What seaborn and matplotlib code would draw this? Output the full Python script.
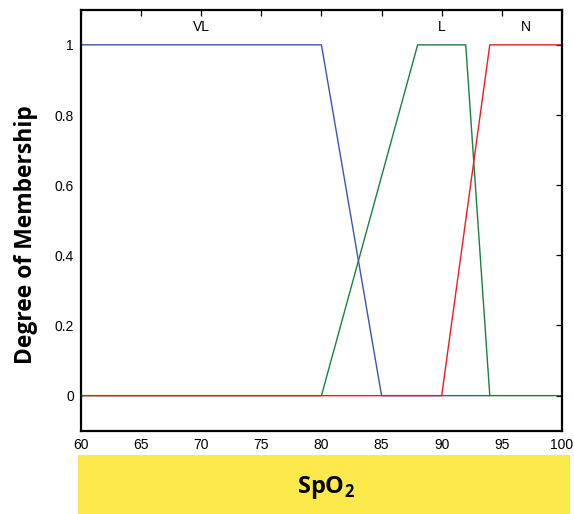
"""
Fuzzy membership functions for SpO2 (VL / L / N)
"""

import matplotlib
matplotlib.use('Agg')
import matplotlib.pyplot as plt
from matplotlib.patches import Rectangle
import seaborn as sns
import pandas as pd

# membership breakpoints
spo2_vl = [60, 80, 85, 94]
mu_vl = [1, 1, 0, 0]
spo2_l = [60, 80, 88, 92, 94, 100]
mu_l = [0, 0, 1, 1, 0, 0]
spo2_n = [60, 90, 94, 100]
mu_n = [0, 0, 1, 1]

set_names = ['VL', 'L', 'N']
set_label_x = [70, 90, 97]
x_ticks = [60, 65, 70, 75, 80, 85, 90, 95, 100]
y_ticks = [0, 0.2, 0.4, 0.6, 0.8, 1]
y_tick_labels = ['0', '0.2', '0.4', '0.6', '0.8', '1']

sns.set_style('white')
plt.rcParams['font.family'] = ['Liberation Sans', 'DejaVu Sans']
plt.rcParams['text.color'] = 'black'
plt.rcParams['axes.labelcolor'] = 'black'
plt.rcParams['mathtext.fontset'] = 'custom'
plt.rcParams['mathtext.bf'] = 'Open Sans:bold'
plt.rcParams['mathtext.rm'] = 'Open Sans'

df = pd.concat([
    pd.DataFrame({'spo2': spo2_l, 'mu': mu_l, 'set': 'L'}),
    pd.DataFrame({'spo2': spo2_vl, 'mu': mu_vl, 'set': 'VL'}),
    pd.DataFrame({'spo2': spo2_n, 'mu': mu_n, 'set': 'N'}),
], ignore_index=True)

palette = {'VL': '#3a55b4', 'L': '#1b7f3e', 'N': '#ec1c24'}

fig = plt.figure(figsize=(5.74, 5.14), dpi=100)
ax = fig.add_axes([0.141, 0.162, 0.838, 0.819])

sns.lineplot(data=df, x='spo2', y='mu', hue='set', hue_order=['L', 'VL', 'N'],
             palette=palette, estimator=None, sort=False, linewidth=1.0,
             legend=False, ax=ax)

ax.set_xlim(60, 100)
ax.set_ylim(-0.1, 1.1)
ax.set_xticks(x_ticks)
ax.set_xticklabels([str(t) for t in x_ticks])
ax.set_yticks(y_ticks)
ax.set_yticklabels(y_tick_labels)
ax.tick_params(direction='in', length=4, width=0.9, top=True, right=True,
               labeltop=False, labelright=False, labelsize=10, colors='black',
               pad=5)
for side in ax.spines.values():
    side.set_color('black')
    side.set_linewidth(1.6)

for name, xpos in zip(set_names, set_label_x):
    ax.text(xpos, 1.05, name, ha='center', va='center', fontsize=10)

ax.set_xlabel('')
ax.set_ylabel('Degree of Membership', fontsize=16.5, fontweight='bold',
              family='Open Sans', color='black')
ax.yaxis.set_label_coords(-0.09, 0.467)

# yellow band holding the x-axis title
fig.patches.append(Rectangle((0.136, 0.0), 0.857, 0.115, transform=fig.transFigure,
                             facecolor='#fbe94c', edgecolor='none'))
fig.text(0.567, 0.052, r'$\mathbf{SpO}_\mathbf{2}$', ha='center', va='center',
         fontsize=17, color='black')

fig.savefig('out.png', dpi=100)
